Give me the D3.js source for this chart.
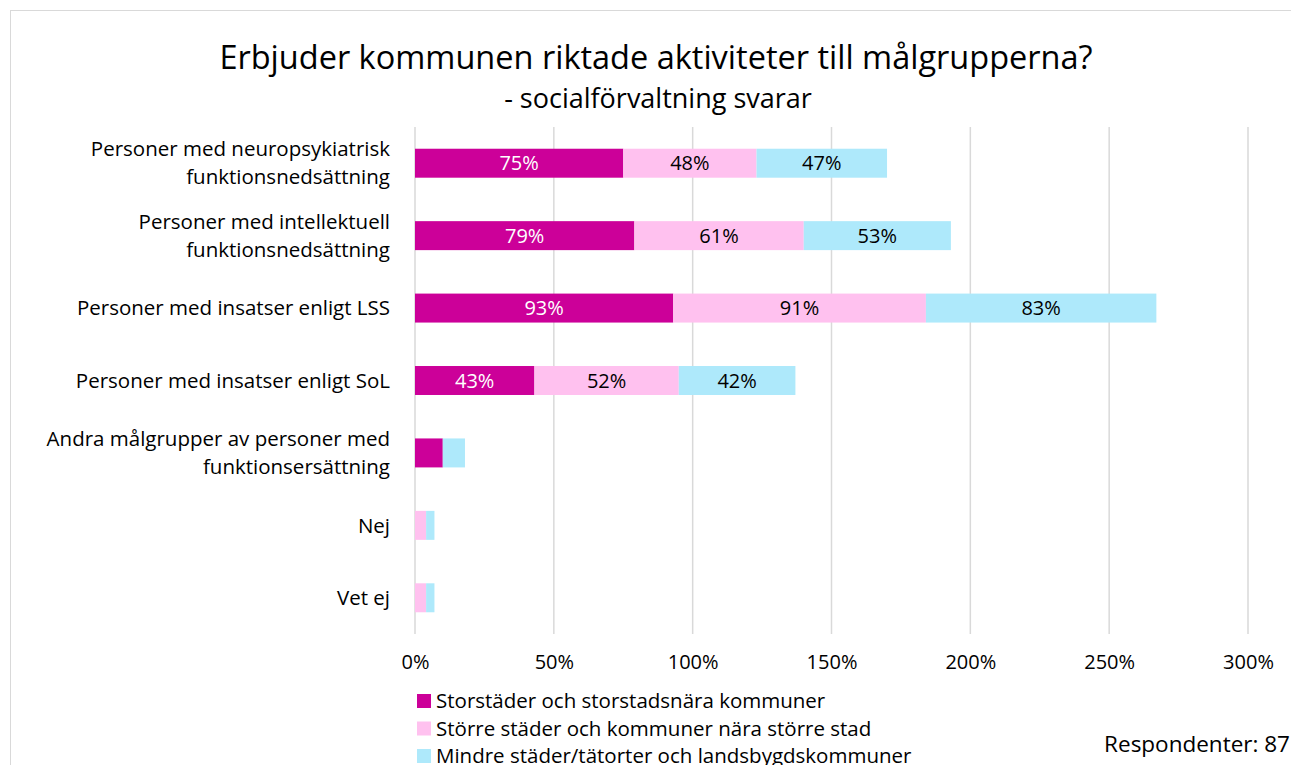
<!DOCTYPE html>
<html>
<head>
<meta charset="utf-8">
<script src="https://cdn.jsdelivr.net/npm/d3@7"></script>
<style>
  body { margin: 0; background: #fff; }
  svg { display: block; }
</style>
</head>
<body>
<svg id="canvas" width="1291" height="765"></svg>
<script>
// data
var categories = [
  ["Personer med neuropsykiatrisk", "funktionsnedsättning"],
  ["Personer med intellektuell", "funktionsnedsättning"],
  ["Personer med insatser enligt LSS"],
  ["Personer med insatser enligt SoL"],
  ["Andra målgrupper av personer med", "funktionsersättning"],
  ["Nej"],
  ["Vet ej"]
];
var seriesNames = [
  "Storstäder och storstadsnära kommuner",
  "Större städer och kommuner nära större stad",
  "Mindre städer/tätorter och landsbygdskommuner"
];
var storstad = [75, 79, 93, 43, 10, 0, 0];
var storre   = [48, 61, 91, 52, 0, 4, 4];
var mindre   = [47, 53, 83, 42, 8, 3, 3];
var xTicks = [0, 50, 100, 150, 200, 250, 300];

var colors = ["#cc0099", "#ffc1ef", "#aee9fb"];
var labelColors = ["#ffffff", "#000000", "#000000"];
var font = "'Open Sans', sans-serif";

var svg = d3.select("#canvas");
var width = +svg.attr("width");
var height = +svg.attr("height");

// chart frame
svg.append("rect")
  .attr("x", 10.5).attr("y", 10.5)
  .attr("width", width + 20).attr("height", height + 20)
  .style("fill", "none")
  .style("stroke", "#d9d9d9")
  .style("stroke-width", 1);

// titles
svg.append("text")
  .attr("x", 656).attr("y", 69)
  .attr("text-anchor", "middle")
  .style("font-family", font)
  .style("font-size", "32.5px")
  .style("fill", "#000")
  .text("Erbjuder kommunen riktade aktiviteter till målgrupperna?");

svg.append("text")
  .attr("x", 658).attr("y", 108)
  .attr("text-anchor", "middle")
  .style("font-family", font)
  .style("font-size", "27px")
  .style("fill", "#000")
  .text("- socialförvaltning svarar");

var xScale = d3.scaleLinear()
  .domain([0, 300])
  .range([415, 1248]);

var yScale = d3.scaleBand()
  .domain(d3.range(categories.length))
  .range([127, 634])
  .paddingInner(0.6)
  .paddingOuter(0.3);

// gridlines
svg.append("g")
  .selectAll("line")
  .data(xTicks)
  .enter().append("line")
  .attr("x1", function(d) { return xScale(d); })
  .attr("x2", function(d) { return xScale(d); })
  .attr("y1", 127).attr("y2", 634)
  .style("stroke", "#d9d9d9")
  .style("stroke-width", 1.5);

// x axis labels
var xAxis = d3.axisBottom(xScale)
  .tickValues(xTicks)
  .tickSize(0)
  .tickPadding(0)
  .tickFormat(function(d) { return d + "%"; });

var xg = svg.append("g")
  .attr("transform", "translate(0,655)")
  .call(xAxis);
xg.select(".domain").remove();
xg.selectAll("text")
  .attr("dy", "0.71em")
  .style("font-family", font)
  .style("font-size", "20px")
  .style("fill", "#000");

// stacked bars
var rows = categories.map(function(c, i) {
  return [storstad[i], storre[i], mindre[i]];
});
var stacked = d3.stack().keys([0, 1, 2])(rows);

stacked.forEach(function(layer, k) {
  var g = svg.append("g");
  g.selectAll("rect")
    .data(layer)
    .enter().append("rect")
    .attr("x", function(d) { return xScale(d[0]); })
    .attr("y", function(d, i) { return yScale(i); })
    .attr("width", function(d) { return xScale(d[1]) - xScale(d[0]); })
    .attr("height", yScale.bandwidth())
    .style("fill", colors[k]);

  // value labels only for the wider segments
  g.selectAll("text")
    .data(layer)
    .enter().append("text")
    .filter(function(d) { return d[1] - d[0] >= 20; })
    .attr("x", function(d) { return (xScale(d[0]) + xScale(d[1])) / 2; })
    .attr("y", function(d, i) { return yScale(i) + yScale.bandwidth() / 2; })
    .attr("dy", "0.35em")
    .attr("text-anchor", "middle")
    .style("font-family", font)
    .style("font-size", "20px")
    .style("fill", labelColors[k])
    .text(function(d) { return (d[1] - d[0]) + "%"; });
});

// category labels
var catG = svg.append("g");
categories.forEach(function(lines, i) {
  var cy = yScale(i) + yScale.bandwidth() / 2;
  var t = catG.append("text")
    .attr("x", 390)
    .attr("text-anchor", "end")
    .style("font-family", font)
    .style("font-size", "20.5px")
    .style("fill", "#000");
  lines.forEach(function(line, j) {
    t.append("tspan")
      .attr("x", 390)
      .attr("y", cy + (j - (lines.length - 1) / 2) * 28)
      .attr("dy", "0.35em")
      .text(line);
  });
});

// legend
var legend = svg.append("g")
  .selectAll("g")
  .data(seriesNames)
  .enter().append("g")
  .attr("transform", function(d, i) { return "translate(417," + (701 + i * 27.5) + ")"; });

legend.append("rect")
  .attr("x", 0).attr("y", -7)
  .attr("width", 14).attr("height", 14)
  .style("fill", function(d, i) { return colors[i]; });

legend.append("text")
  .attr("x", 19).attr("y", 0)
  .attr("dy", "0.35em")
  .style("font-family", font)
  .style("font-size", "20.5px")
  .style("fill", "#000")
  .text(function(d) { return d; });

svg.append("text")
  .attr("x", 1290).attr("y", 744)
  .attr("dy", "0.35em")
  .attr("text-anchor", "end")
  .style("font-family", font)
  .style("font-size", "22.5px")
  .style("fill", "#000")
  .text("Respondenter: 87");
</script>
</body>
</html>
